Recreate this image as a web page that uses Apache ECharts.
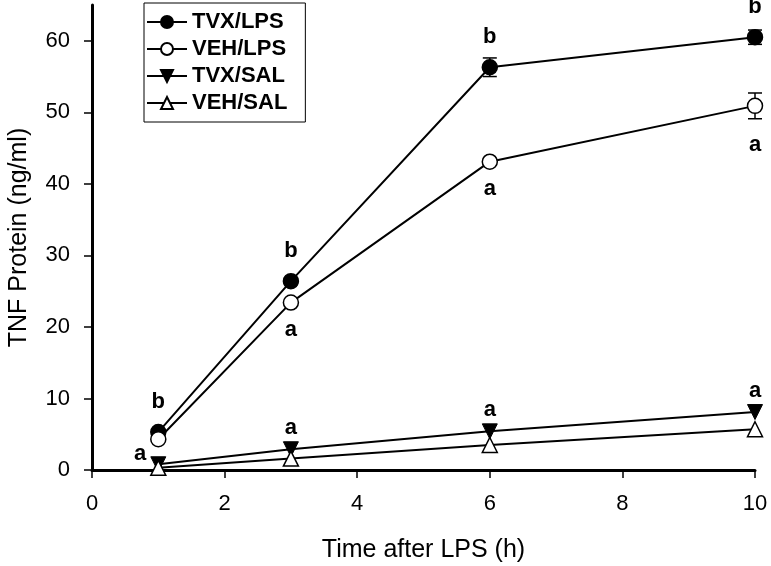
<!DOCTYPE html>
<html>
<head>
<meta charset="utf-8">
<script src="https://cdn.jsdelivr.net/npm/echarts@6/dist/echarts.min.js"></script>
<style>
  html, body { margin: 0; padding: 0; background: #fff; }
  #chart { width: 771px; height: 566px; }
</style>
</head>
<body>
<div id="chart"></div>
<script>
// time points (h)
const hours = [1, 3, 6, 10];

// TNF protein (ng/ml) and SEM
const tvxLps = [5.3, 26.4, 56.3, 60.5];
const tvxLpsErr = [0.3, 0.5, 1.3, 1.0];
const vehLps = [4.3, 23.4, 43.1, 50.9];
const vehLpsErr = [0.2, 0.3, 0.3, 1.8];
const tvxSal = [0.8, 2.9, 5.4, 8.1];
const vehSal = [0.3, 1.6, 3.5, 5.7];

// significance letters
const tvxLpsLetters = ['b', 'b', 'b', 'b'];
const vehLpsLetters = ['', 'a', 'a', 'a'];
const salLetters = ['a', 'a', 'a', 'a'];

const yTicks = [0, 10, 20, 30, 40, 50, 60];
const xTicks = [0, 2, 4, 6, 8, 10];

const chart = echarts.init(document.getElementById('chart'));

const font = 'Liberation Sans, Arial, sans-serif';

function pairs(vals) {
  return hours.map((h, i) => [h, vals[i]]);
}

function errorBars(vals, errs) {
  return {
    type: 'custom',
    silent: true,
    z: 1,
    data: hours.map((h, i) => [h, vals[i] - errs[i], vals[i] + errs[i]]),
    renderItem: function (params, api) {
      const lo = api.coord([api.value(0), api.value(1)]);
      const hi = api.coord([api.value(0), api.value(2)]);
      const w = 7;
      const style = { stroke: '#000', lineWidth: 1.5 };
      return {
        type: 'group',
        children: [
          { type: 'line', shape: { x1: lo[0], y1: lo[1], x2: hi[0], y2: hi[1] }, style: style },
          { type: 'line', shape: { x1: lo[0] - w, y1: lo[1], x2: lo[0] + w, y2: lo[1] }, style: style },
          { type: 'line', shape: { x1: hi[0] - w, y1: hi[1], x2: hi[0] + w, y2: hi[1] }, style: style }
        ]
      };
    }
  };
}

const labelStyle = { show: true, color: '#000', fontFamily: font, fontWeight: 'bold', fontSize: 22 };

const option = {
  animation: false,
  backgroundColor: '#fff',
  grid: { left: 92, right: 16, top: 5, bottom: 96, outerBoundsMode: 'none', containLabel: false },
  legend: {
    left: 144,
    top: 3,
    orient: 'vertical',
    itemGap: 5,
    itemWidth: 40,
    itemHeight: 15,
    padding: [8, 18, 8, 2],
    borderColor: '#000',
    borderWidth: 1,
    backgroundColor: '#fff',
    textStyle: { color: '#000', fontFamily: font, fontWeight: 'bold', fontSize: 22, lineHeight: 22 },
    data: ['TVX/LPS', 'VEH/LPS', 'TVX/SAL', 'VEH/SAL']
  },
  xAxis: {
    type: 'value',
    min: 0,
    max: 10,
    interval: 2,
    name: 'Time after LPS (h)',
    nameLocation: 'middle',
    nameGap: 68,
    nameTextStyle: { color: '#000', fontFamily: font, fontSize: 25 },
    splitLine: { show: false },
    axisLine: { show: true, lineStyle: { color: '#000', width: 3 } },
    axisTick: { show: true, length: 8, lineStyle: { color: '#000', width: 1.5 } },
    axisLabel: { color: '#000', fontFamily: font, fontSize: 22, margin: 23, customValues: xTicks }
  },
  yAxis: {
    type: 'value',
    min: 0,
    max: 65,
    interval: 10,
    name: 'TNF Protein (ng/ml)',
    nameLocation: 'middle',
    nameGap: 60,
    nameTextStyle: { color: '#000', fontFamily: font, fontSize: 25 },
    splitLine: { show: false },
    axisLine: { show: true, lineStyle: { color: '#000', width: 3 } },
    axisTick: { show: true, length: 8, lineStyle: { color: '#000', width: 1.5 }, customValues: yTicks },
    axisLabel: { color: '#000', fontFamily: font, fontSize: 22, margin: 22, customValues: yTicks }
  },
  series: [
    errorBars(tvxLps, tvxLpsErr),
    errorBars(vehLps, vehLpsErr),
    {
      name: 'TVX/LPS',
      type: 'line',
      data: pairs(tvxLps),
      symbol: 'circle',
      symbolSize: 15,
      z: 3,
      lineStyle: { color: '#000', width: 2 },
      itemStyle: { color: '#000', borderColor: '#000', borderWidth: 1.5 },
      label: Object.assign({}, labelStyle, {
        position: 'top',
        distance: 11,
        formatter: p => tvxLpsLetters[p.dataIndex]
      })
    },
    {
      name: 'VEH/LPS',
      type: 'line',
      data: pairs(vehLps).map((d, i) => ({
        value: d,
        label: { distance: i === 3 ? 20 : 8 }
      })),
      symbol: 'circle',
      symbolSize: 15,
      z: 3,
      lineStyle: { color: '#000', width: 2 },
      itemStyle: { color: '#fff', borderColor: '#000', borderWidth: 1.5 },
      label: Object.assign({}, labelStyle, {
        position: 'bottom',
        formatter: p => vehLpsLetters[p.dataIndex]
      })
    },
    {
      name: 'TVX/SAL',
      type: 'line',
      data: pairs(tvxSal).map((d, i) => ({
        value: d,
        label: i === 0 ? { position: 'left', offset: [-2, -10] } : {}
      })),
      symbol: 'triangle',
      symbolRotate: 180,
      symbolSize: 15,
      z: 3,
      lineStyle: { color: '#000', width: 2 },
      itemStyle: { color: '#000', borderColor: '#000', borderWidth: 1 },
      label: Object.assign({}, labelStyle, {
        position: 'top',
        distance: 2,
        formatter: p => salLetters[p.dataIndex]
      })
    },
    {
      name: 'VEH/SAL',
      type: 'line',
      data: pairs(vehSal),
      symbol: 'triangle',
      symbolSize: 15,
      z: 3,
      lineStyle: { color: '#000', width: 2 },
      itemStyle: { color: '#fff', borderColor: '#000', borderWidth: 1.5 }
    }
  ]
};

chart.setOption(option);
</script>
</body>
</html>
